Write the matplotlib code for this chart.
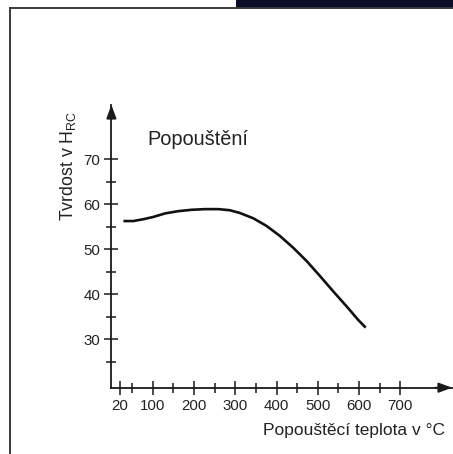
import numpy as np
import matplotlib.pyplot as plt
from matplotlib.lines import Line2D
from matplotlib.patches import Rectangle

plt.rcParams['font.family'] = ['Liberation Sans', 'DejaVu Sans']

# tempering curve
teplota = [29, 53, 77, 101, 130, 162, 194, 227, 259, 287, 311, 344, 376, 408,
           440, 473, 505, 537, 570, 598, 616]
tvrdost = [56.3, 56.3, 56.7, 57.2, 58.0, 58.5, 58.8, 58.95, 58.95, 58.7, 58.1, 56.9, 55.2, 53.0,
           50.4, 47.4, 44.1, 40.7, 37.3, 34.3, 32.6]

x_major = [20, 100, 200, 300, 400, 500, 600, 700]
x_minor = [50, 150, 250, 350, 450, 550, 650]
y_major = [30, 40, 50, 60, 70]
y_minor = [25, 35, 45, 55, 65]

W, H = 453, 454
fig = plt.figure(figsize=(W / 100, H / 100), dpi=100)

# frame around the picture and dark bar on top right
fig.add_artist(Rectangle((236 / W, 1 - 7.5 / H), 1, 7.5 / H, transform=fig.transFigure,
                         color='#0b0d26', lw=0))
fig.add_artist(Line2D([10 / W, 10 / W], [0, 1 - 8.3 / H], transform=fig.transFigure,
                      color='#3a3a3a', lw=1.4))
fig.add_artist(Line2D([10 / W, 1], [1 - 8.3 / H, 1 - 8.3 / H], transform=fig.transFigure,
                      color='#3a3a3a', lw=1.4))

x0, y0 = 111.4, 387.7
xr, yt = 452, 105
ax = fig.add_axes([x0 / W, 1 - y0 / H, (xr - x0) / W, (y0 - yt) / H])
ax.set_xlim(0, 825)
ax.set_ylim(19.25, 82.1)
ax.patch.set_alpha(0)

for s in ['top', 'right']:
    ax.spines[s].set_visible(False)
for s in ['left', 'bottom']:
    ax.spines[s].set_linewidth(1.3)
    ax.spines[s].set_color('#1a1a1a')

# arrow heads
ax.annotate('', xy=(1.0, 0), xytext=(0.95, 0), xycoords='axes fraction',
            arrowprops=dict(arrowstyle='-|>,head_length=0.8,head_width=0.3',
                            color='#1a1a1a', lw=1.3, shrinkA=0, shrinkB=0))
ax.annotate('', xy=(0, 1.0), xytext=(0, 0.95), xycoords='axes fraction',
            arrowprops=dict(arrowstyle='-|>,head_length=0.8,head_width=0.3',
                            color='#1a1a1a', lw=1.3, shrinkA=0, shrinkB=0))

ax.set_xticks(x_major)
ax.set_xticks(x_minor, minor=True)
ax.set_yticks(y_major)
ax.set_yticks(y_minor, minor=True)
ax.tick_params(which='major', direction='inout', length=10, width=1.1, color='#1a1a1a',
               labelsize=10.8, labelcolor='#222222', pad=3)
ax.tick_params(which='minor', direction='inout', length=7, width=1.1, color='#1a1a1a')

ax.plot(teplota, tvrdost, color='#111111', lw=1.9, solid_capstyle='butt',
        solid_joinstyle='round')

ax.text(86, 73.2, 'Popouštění', fontsize=14.4, color='#222222', va='baseline', ha='left')

fig.text(68 / W, 1 - 166 / H, 'Tvrdost v H$\\mathregular{_{RC}}$', rotation=90,
         fontsize=12.8, color='#222222', ha='center', va='center')
fig.text(263 / W, 1 - 435 / H, 'Popouštěcí teplota v °C', fontsize=12.5,
         color='#222222', ha='left', va='baseline')

fig.savefig('out.png', dpi=100)
